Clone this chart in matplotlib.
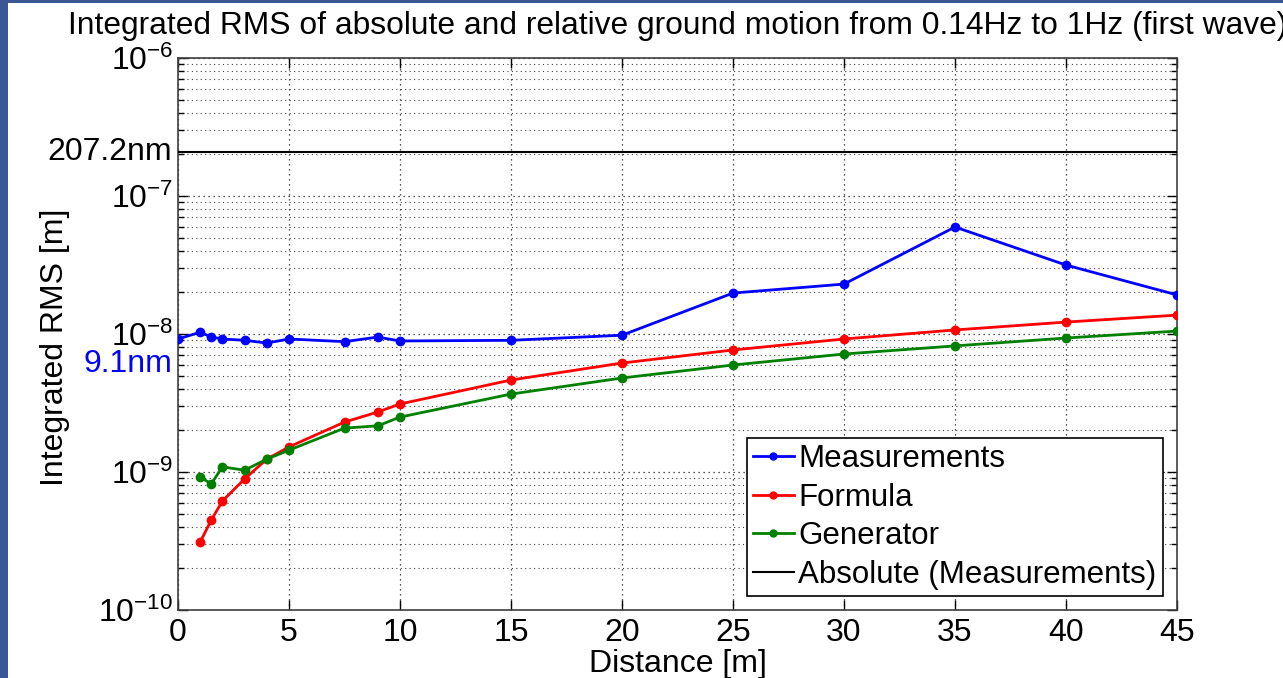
import matplotlib
matplotlib.use("Agg")
import matplotlib.pyplot as plt
import matplotlib.transforms as mtransforms
from matplotlib.patches import Rectangle
from matplotlib.ticker import LogLocator, NullFormatter, FixedLocator

plt.rcParams['font.family'] = ['Liberation Sans', 'DejaVu Sans']
plt.rcParams['mathtext.fontset'] = 'custom'
plt.rcParams['mathtext.rm'] = 'Liberation Sans'
plt.rcParams['mathtext.it'] = 'Liberation Sans:italic'
plt.rcParams['mathtext.default'] = 'regular'

# ---- data ----
dist_meas = [0, 1, 1.5, 2, 3, 4, 5, 7.5, 9, 10, 15, 20, 25, 30, 35, 40, 45]
measurements = [9.2e-9, 1.03e-8, 9.5e-9, 9.2e-9, 9.0e-9, 8.6e-9, 9.2e-9, 8.8e-9,
                9.5e-9, 8.9e-9, 9.0e-9, 9.8e-9, 1.98e-8, 2.3e-8, 5.96e-8, 3.16e-8, 1.92e-8]

dist_model = [1, 1.5, 2, 3, 4, 5, 7.5, 9, 10, 15, 20, 25, 30, 35, 40, 45]
formula = [3.11e-10, 4.49e-10, 6.16e-10, 8.9e-10, 1.24e-9, 1.52e-9, 2.30e-9, 2.72e-9,
           3.11e-9, 4.64e-9, 6.16e-9, 7.66e-9, 9.2e-9, 1.07e-8, 1.22e-8, 1.37e-8]
generator = [9.2e-10, 8.2e-10, 1.09e-9, 1.03e-9, 1.24e-9, 1.44e-9, 2.08e-9, 2.16e-9,
             2.5e-9, 3.67e-9, 4.8e-9, 5.96e-9, 7.16e-9, 8.2e-9, 9.35e-9, 1.05e-8]

absolute_level = 2.072e-7
mean_level_label = "9.1nm"
absolute_label = "207.2nm"

x_ticks = [0, 5, 10, 15, 20, 25, 30, 35, 40, 45]
y_ticks = [1e-10, 1e-9, 1e-8, 1e-7, 1e-6]
y_tick_labels = [r'$10^{-10}$', r'$10^{-9}$', r'$10^{-8}$', r'$10^{-7}$', r'$10^{-6}$']

title = "Integrated RMS of absolute and relative ground motion from 0.14Hz to 1Hz (first wave)"

# ---- figure ----
W, H = 1283, 678
fig = plt.figure(figsize=(W / 100, H / 100), dpi=100)
fig.patch.set_facecolor('white')
# slide border (blue strips on left and top)
fig.patches.append(Rectangle((0, 0), 8 / W, 1, transform=fig.transFigure,
                             facecolor='#3a5694', edgecolor='none', zorder=-1))
fig.patches.append(Rectangle((0, 1 - 3 / H), 1, 3 / H, transform=fig.transFigure,
                             facecolor='#3a5694', edgecolor='none', zorder=-1))

ax = fig.add_axes([178 / W, 1 - 610 / H, (1177 - 178) / W, (610 - 58) / H])
ax.set_yscale('log')
ax.set_xlim(0, 45)
ax.set_ylim(1e-10, 1e-6)

ms = 6
ax.plot(dist_meas, measurements, '-o', color='#0000ff', lw=2, ms=ms, label='Measurements', zorder=5)
ax.plot(dist_model, formula, '-o', color='#ff0000', lw=2, ms=ms, label='Formula', zorder=4)
ax.plot(dist_model, generator, '-o', color='#008000', lw=2, ms=ms, label='Generator', zorder=4)
ax.axhline(absolute_level, color='black', lw=1.5, label='Absolute (Measurements)', zorder=3)

ax.xaxis.set_major_locator(FixedLocator(x_ticks))
ax.set_yticks(y_ticks)
ax.set_yticklabels(y_tick_labels)
ax.yaxis.set_minor_locator(LogLocator(base=10, subs=range(2, 10), numticks=20))
ax.yaxis.set_minor_formatter(NullFormatter())

ax.grid(True, which='major', axis='both', linestyle=(0, (1, 3)), color='#202020', lw=0.9)
ax.grid(True, which='minor', axis='y', linestyle=(0, (1, 3)), color='#404040', lw=0.8)

ax.tick_params(which='both', direction='in', top=True, right=True, labelsize=23, colors='black')
ax.tick_params(which='major', length=7, width=1)
ax.tick_params(which='minor', length=4, width=1)
ax.tick_params(axis='x', pad=6)
for s in ax.spines.values():
    s.set_color('#404040')
    s.set_linewidth(1.2)

ax.set_xlabel('Distance [m]', fontsize=23)
ax.xaxis.set_label_coords(0.5, -0.07)
ax.set_ylabel('Integrated RMS [m]', fontsize=23)
ax.yaxis.set_label_coords(-0.108, 0.476)
ax.set_title(title, fontsize=22.9, pad=17)

trans = mtransforms.blended_transform_factory(ax.transAxes, ax.transData)
ax.text(-0.006, absolute_level, absolute_label, transform=trans, ha='right', va='center',
        fontsize=23, color='black')
ax.text(-0.006, 6.1e-9, mean_level_label, transform=trans, ha='right', va='center',
        fontsize=23, color='#0000ff')

leg = ax.legend(loc='lower right', fontsize=22.5, frameon=True, fancybox=False,
                edgecolor='black', framealpha=1, borderaxespad=0.45, handlelength=1.3,
                handletextpad=0.15, borderpad=0.2, labelspacing=0.27)
leg.get_frame().set_linewidth(1.2)
for h in leg.legend_handles:
    if h.get_marker() not in (None, 'None', ''):
        h.set_markersize(5)

fig.savefig('out.png', dpi=100)
